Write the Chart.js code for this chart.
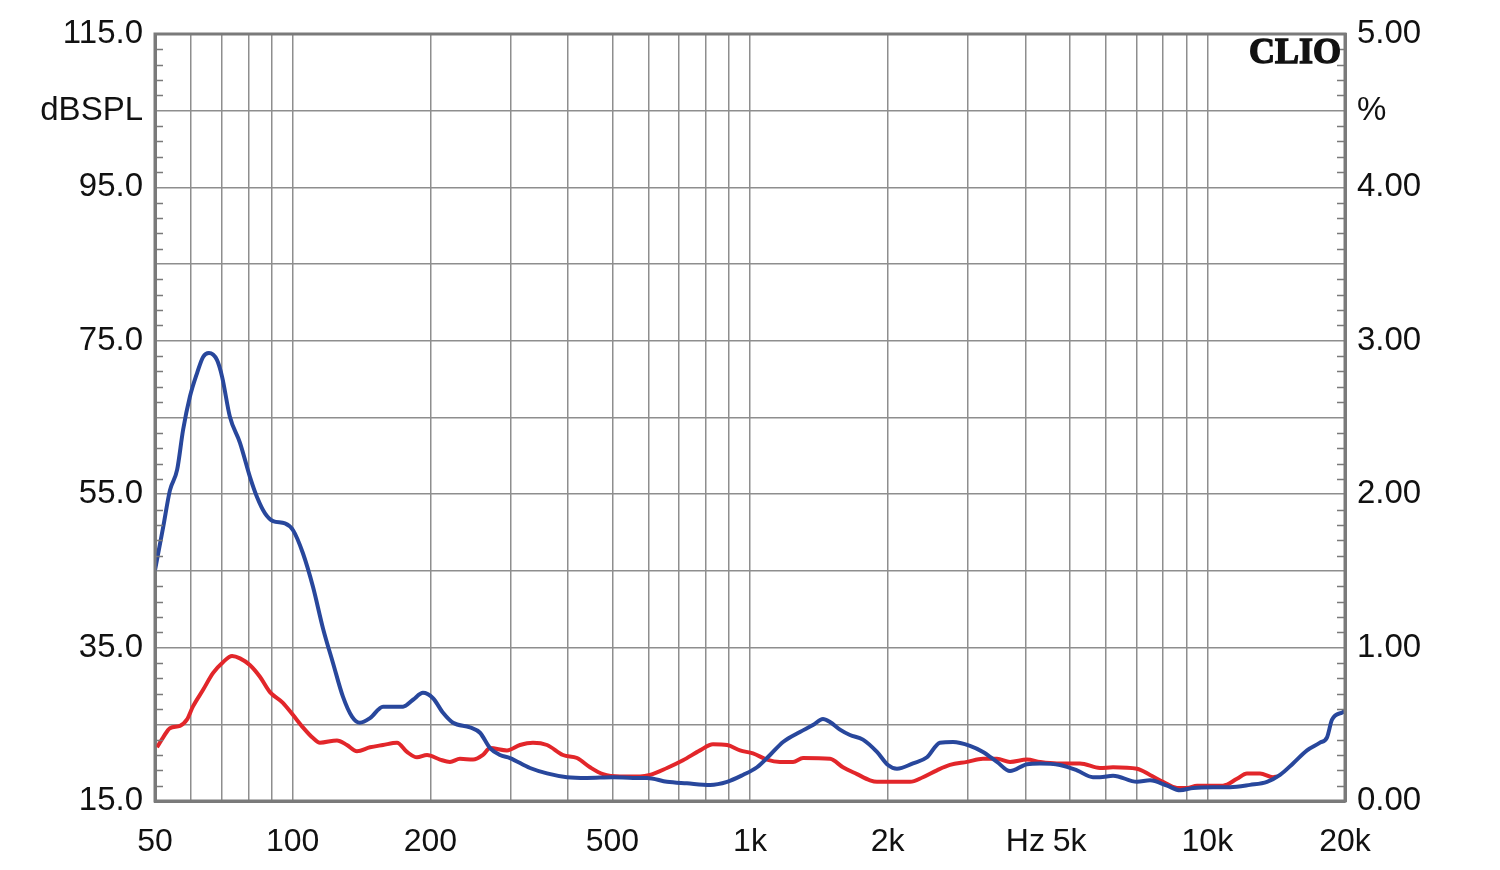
<!DOCTYPE html>
<html>
<head>
<meta charset="utf-8">
<script src="https://cdn.jsdelivr.net/npm/chart.js@4.4.1/dist/chart.umd.min.js"></script>
<style>
html,body{margin:0;padding:0;background:#fff;}
#wrap{width:1500px;height:870px;position:relative;}
</style>
</head>
<body>
<div id="wrap"><canvas id="c" width="1500" height="870"></canvas></div>
<script>
// ---- data ----
const freqGrid = [50,60,70,80,90,100,200,300,400,500,600,700,800,900,1000,2000,3000,4000,5000,6000,7000,8000,9000,10000,20000];
const freqLabelValues = [50,100,200,500,1000,2000,4000,5000,10000,20000];
const freqLabelTexts  = ['50','100','200','500','1k','2k','Hz','5k','10k','20k'];

const dbTickValues = [115,95,75,55,35,15];
const dbUnitLabel = 'dBSPL';
const pctTickValues = [5,4,3,2,1,0];
const pctUnitLabel = '%';

const blueFreq = [50,52.1,53.9,55.9,57.6,59.6,61.8,63.7,65.6,68.3,70.1,72.9,76.7,80.7,83.6,87,90.6,96.2,100.2,105.3,110.8,116.5,122.5,128.8,134.8,140.3,147.6,157.6,174.3,183.3,192.7,202.7,213.2,224.2,244.2,256.8,270.1,284,298.7,330.3,359.9,398,440,501.7,555,595.5,658.5,728,818,891,965,1036,1106,1181,1286,1373,1444,1496,1573,1654,1766,1895,2003,2096,2272,2438,2602,2779,3027,3232,3468,3703,4033,4306,4762,5188,5623,5824,6220,7020,7494,8165,8715,9305,10290,11210,12400,13505,14420,15395,16520,17635,18270,18735,19800,20000];
const blueDb   = [45.1,50.7,55.5,58.2,63.4,67.7,70.8,72.9,73.4,72.5,70.3,65.1,61.7,57.2,54.6,52.5,51.5,51.2,50.3,47.3,42.9,37.5,33,28.6,26,25.2,25.8,27.3,27.3,28.2,29.1,28.4,26.5,25.2,24.6,23.9,21.9,21,20.6,19.3,18.6,18.1,18.0,18.1,18.0,18.0,17.5,17.3,17.1,17.5,18.4,19.4,21,22.7,24,24.9,25.7,25.3,24.3,23.6,23,21.4,19.7,19.2,19.9,20.7,22.6,22.7,22.2,21.4,20.1,18.9,19.8,19.9,19.7,19,18.1,18.1,18.3,17.5,17.7,17,16.4,16.7,16.8,16.8,17.1,17.5,18.4,19.9,21.6,22.6,23.3,25.6,26.6,26.8];

const redFreq = [50.5,52.1,53.9,56.7,58.7,60.5,63.7,67,70.4,73.7,76.7,80.7,84.8,89.2,95.2,100.2,105.3,110.8,114.7,125,131.4,138.2,147.6,157.6,169.1,177.8,187,196.7,210,220.8,232.2,248,260.7,270.1,294.2,314.1,335.3,359.9,390,418.6,446.9,477,519.7,574.8,604.5,658.5,713.7,777.6,830,891,951,1015,1089,1163,1242,1306,1496,1597,1714,1830,1895,2238,2389,2563,2737,2982,3232,3468,3703,4033,4306,4691,5267,5824,6220,7020,7494,8000,8585,9030,9495,10290,10820,11610,12210,13040,13920,14205];
const redDb   = [22,23.3,24.5,24.8,25.6,27.3,29.5,31.7,33.1,33.9,33.6,32.7,31.2,29.2,27.8,26.2,24.6,23.2,22.6,22.9,22.3,21.5,22,22.3,22.6,21.4,20.7,21,20.4,20.1,20.5,20.4,21,21.9,21.6,22.3,22.6,22.3,21,20.6,19.4,18.5,18.2,18.2,18.4,19.3,20.3,21.6,22.4,22.3,21.6,21.2,20.4,20.1,20.1,20.6,20.5,19.4,18.5,17.7,17.5,17.5,18.1,19,19.7,20.1,20.5,20.5,20.1,20.4,20.1,19.9,19.9,19.3,19.4,19.2,18.4,17.5,16.7,16.7,17,17,17,17.9,18.6,18.6,18.1,18.2];

// ---- chart ----
const FONT = 'Liberation Sans, Arial, sans-serif';
const gridColor = '#8e8e8e';
const frameColor = '#7a7a7a';

const framePlugin = {
  id: 'frame',
  afterDatasetsDraw(chart) {
    const {ctx, chartArea: a, scales} = chart;
    ctx.save();
    // minor ticks on left and right edges (every 2 dB)
    ctx.strokeStyle = frameColor;
    ctx.lineWidth = 1.5;
    const yS = scales.y;
    for (let v = yS.min; v <= yS.max; v += 2) {
      if (Math.round(v - yS.min) % 10 === 0) continue;
      const py = Math.round(yS.getPixelForValue(v)) + 0.5;
      ctx.beginPath();
      ctx.moveTo(a.left, py); ctx.lineTo(a.left + 8, py);
      ctx.moveTo(a.right, py); ctx.lineTo(a.right - 8, py);
      ctx.stroke();
    }
    // frame
    ctx.lineWidth = 3;
    ctx.strokeRect(a.left, a.top, a.right - a.left, a.bottom - a.top);
    // CLIO logo
    ctx.fillStyle = '#111';
    ctx.strokeStyle = '#111';
    ctx.lineWidth = 1.4;
    ctx.font = 'bold 36px "Liberation Serif", "DejaVu Serif", serif';
    ctx.textAlign = 'right';
    ctx.textBaseline = 'alphabetic';
    ctx.fillText('CLIO', a.right - 4, a.top + 29);
    ctx.strokeText('CLIO', a.right - 4, a.top + 29);
    ctx.restore();
  }
};

new Chart(document.getElementById('c'), {
  type: 'line',
  data: {
    datasets: [
      {
        label: 'blue',
        data: blueFreq.map((f, i) => ({x: f, y: blueDb[i]})),
        borderColor: '#28479c',
        borderWidth: 4,
        pointRadius: 0,
        cubicInterpolationMode: 'monotone',
        yAxisID: 'y'
      },
      {
        label: 'red',
        data: redFreq.map((f, i) => ({x: f, y: redDb[i]})),
        borderColor: '#e2262a',
        borderWidth: 4,
        pointRadius: 0,
        cubicInterpolationMode: 'monotone',
        yAxisID: 'y'
      }
    ]
  },
  options: {
    responsive: false,
    animation: false,
    events: [],
    layout: {padding: {top: 34, left: 0, right: 0, bottom: 0}},
    plugins: {legend: {display: false}, tooltip: {enabled: false}},
    scales: {
      x: {
        type: 'logarithmic',
        min: 50, max: 20000,
        afterBuildTicks: s => { s.ticks = freqGrid.map(v => ({value: v})); },
        afterFit: s => { s.height = 69; },
        ticks: {
          autoSkip: false, maxRotation: 0, minRotation: 0,
          padding: 22,
          color: '#111',
          font: {family: FONT, size: 32},
          callback: v => { const i = freqLabelValues.indexOf(v); return i >= 0 ? freqLabelTexts[i] : ''; }
        },
        grid: {color: gridColor, lineWidth: 1.5, drawTicks: false},
        border: {display: true, color: frameColor, width: 3}
      },
      y: {
        type: 'linear', position: 'left',
        min: 15, max: 115,
        afterBuildTicks: s => { const t = []; for (let v = 115; v >= 15; v -= 10) t.push({value: v}); s.ticks = t; },
        afterFit: s => { s.width = 155; },
        ticks: {
          padding: 12,
          color: '#111',
          font: {family: FONT, size: 33},
          callback: v => dbTickValues.includes(v) ? v.toFixed(1) : (v === 105 ? dbUnitLabel : '')
        },
        grid: {color: gridColor, lineWidth: 1.5, drawTicks: false},
        border: {display: true, color: frameColor, width: 3}
      },
      y2: {
        type: 'linear', position: 'right',
        min: 0, max: 5,
        afterBuildTicks: s => { const t = []; for (let k = 10; k >= 0; k--) t.push({value: k / 2}); s.ticks = t; },
        afterFit: s => { s.width = 155; },
        ticks: {
          padding: 12,
          color: '#111',
          font: {family: FONT, size: 33},
          callback: v => pctTickValues.includes(v) ? v.toFixed(2) : (v === 4.5 ? pctUnitLabel : '')
        },
        grid: {display: false, drawTicks: false},
        border: {display: true, color: frameColor, width: 3}
      }
    }
  },
  plugins: [framePlugin]
});
</script>
</body>
</html>
